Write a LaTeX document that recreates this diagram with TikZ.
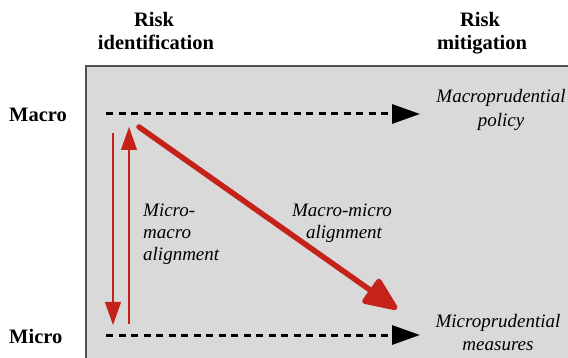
\documentclass[tikz,border=0pt]{standalone}
\usepackage{fontspec}
\setmainfont{Liberation Serif}
\usetikzlibrary{arrows.meta}
\definecolor{panelgray}{HTML}{D9D9D9}
\definecolor{paneledge}{HTML}{505050}
\definecolor{alignred}{HTML}{C52219}
\tikzset{
  hdr/.style={font=\fontsize{20.5}{23}\selectfont\bfseries, inner sep=0pt, anchor=base},
  lvl/.style={font=\fontsize{20.5}{23}\selectfont\bfseries, inner sep=0pt, anchor=base west},
  lbl/.style={font=\fontsize{19}{22}\selectfont\itshape, inner sep=0pt, anchor=base},
  lbll/.style={font=\fontsize{19}{22}\selectfont\itshape, inner sep=0pt, anchor=base west},
  flow/.style={line width=3pt, dash pattern=on 7pt off 5.5pt,
    -{Triangle[length=28pt,width=19pt]}},
  thinred/.style={alignred, line width=1.3pt,
    -{Triangle[length=23pt,width=16pt]}},
  thickred/.style={alignred, line width=5.5pt, line cap=round,
    -{Triangle[length=38pt,width=31pt,round=false]}}
}
\begin{document}
\begin{tikzpicture}[x=1pt,y=-1pt]
\useasboundingbox (0,0) rectangle (568,358);
\begin{scope}
\clip (0,0) rectangle (568,358);
% shaded panel
\draw[fill=panelgray, draw=paneledge, line width=2pt] (86,66) rectangle (580,370);
\end{scope}

% column headers
\node[hdr] (idA) at (154,27) {Risk};
\node[hdr] (idB) at (156,50) {identification};
\node[hdr] (miA) at (480,27) {Risk};
\node[hdr] (miB) at (482,50) {mitigation};

% row labels
\node[lvl] (macro) at (9,122) {Macro};
\node[lvl] (micro) at (9,344) {Micro};

% outcome labels
\node[lbl] (macpA) at (501,103) {Macroprudential};
\node[lbl] (macpB) at (501,127) {policy};
\node[lbl] (micpA) at (498,327) {Microprudential};
\node[lbl] (micpB) at (498,350) {measures};

% alignment labels
\node[lbll] (mmA) at (143,217) {Micro-};
\node[lbll] (mmB) at (143,239) {macro};
\node[lbll] (mmC) at (143,261) {alignment};
\node[lbl] (amA) at (342,217) {Macro-micro};
\node[lbl] (amB) at (344,239) {alignment};

% connector end points
\coordinate (macroS) at (106,114);
\coordinate (macroT) at (420,114);
\coordinate (microS) at (106,335);
\coordinate (microT) at (420,335);
\coordinate (downS) at (113,133);
\coordinate (downT) at (113,325);
\coordinate (upS) at (129,324);
\coordinate (upT) at (129,127);
\coordinate (diagS) at (139,127);
\coordinate (diagT) at (397,309);

% identification-to-mitigation flows
\draw[flow] (macroS) -- (macroT);
\draw[flow] (microS) -- (microT);

% micro-macro alignment
\draw[thinred] (downS) -- (downT);
\draw[thinred] (upS) -- (upT);

% macro-micro alignment
\draw[thickred] (diagS) -- (diagT);
\end{tikzpicture}
\end{document}
